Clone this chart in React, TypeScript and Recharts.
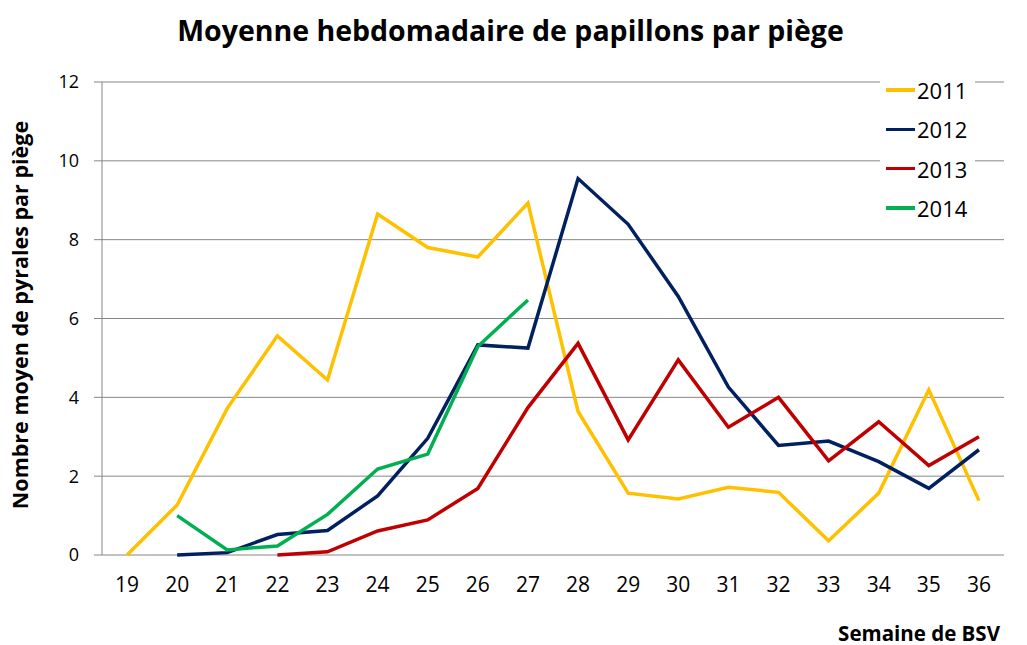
import React from "react";
import { LineChart, Line, XAxis, YAxis, CartesianGrid } from "recharts";

const weeks = [19, 20, 21, 22, 23, 24, 25, 26, 27, 28, 29, 30, 31, 32, 33, 34, 35, 36];
const weekBounds = [18.5, 19.5, 20.5, 21.5, 22.5, 23.5, 24.5, 25.5, 26.5, 27.5, 28.5, 29.5, 30.5, 31.5, 32.5, 33.5, 34.5, 35.5, 36.5];
const yTicks = [0, 2, 4, 6, 8, 10, 12];

const s2011 = [0, 1.27, 3.72, 5.56, 4.44, 8.65, 7.8, 7.56, 8.93, 3.64, 1.57, 1.42, 1.72, 1.59, 0.36, 1.57, 4.19, 1.38];
const s2012 = [null, 0, 0.06, 0.52, 0.62, 1.5, 2.96, 5.33, 5.25, 9.55, 8.39, 6.56, 4.26, 2.78, 2.89, 2.37, 1.69, 2.67];
const s2013 = [null, null, null, 0, 0.08, 0.61, 0.89, 1.69, 3.74, 5.37, 2.92, 4.95, 3.24, 4.0, 2.39, 3.38, 2.27, 3.0];
const s2014 = [null, 1.0, 0.13, 0.23, 1.03, 2.18, 2.56, 5.29, 6.47, null, null, null, null, null, null, null, null, null];

const series = [
  { key: "2011", color: "#FFC000", values: s2011 },
  { key: "2012", color: "#002060", values: s2012 },
  { key: "2013", color: "#C00000", values: s2013 },
  { key: "2014", color: "#00B050", values: s2014 },
];

const data = weeks.map((w, i) => {
  const row: Record<string, number | null> = { week: w };
  series.forEach((s) => (row[s.key] = s.values[i]));
  return row;
});

const font = "'Open Sans', sans-serif";
const gray = "#868686";

export default function App() {
  return (
    <div style={{ position: "relative", width: 1011, height: 637, fontFamily: font }}>
      <div
        style={{
          position: "absolute",
          left: 0,
          top: 4,
          width: 1005,
          textAlign: "center",
          fontSize: 28.5,
          fontWeight: 700,
          lineHeight: "36px",
        }}
      >
        Moyenne hebdomadaire de papillons par piège
      </div>

      <LineChart
        width={1011}
        height={637}
        data={data}
        margin={{ top: 74, right: 15, bottom: 60, left: 0 }}
        style={{ fontFamily: font }}
      >
        <CartesianGrid horizontal vertical={false} stroke={gray} strokeWidth={1} />
        <XAxis
          xAxisId="bounds"
          dataKey="week"
          type="number"
          domain={[18.5, 36.5]}
          ticks={weekBounds}
          tick={false}
          height={0}
          tickSize={8}
          stroke={gray}
          axisLine={{ stroke: gray }}
          tickLine={{ stroke: gray }}
        />
        <XAxis
          xAxisId="weeks"
          dataKey="week"
          type="number"
          domain={[18.5, 36.5]}
          ticks={weeks}
          interval={0}
          axisLine={false}
          tickLine={false}
          tickSize={8}
          tickMargin={14}
          height={30}
          tick={{ fill: "#000", fontSize: 21 }}
        />
        <YAxis
          width={94}
          domain={[0, 12]}
          ticks={yTicks}
          interval={0}
          stroke={gray}
          tickSize={8}
          tickMargin={15}
          tick={{ fill: "#000", fontSize: 18 }}
        />
        {series.map((s) => (
          <Line
            key={s.key}
            xAxisId="weeks"
            dataKey={s.key}
            stroke={s.color}
            strokeWidth={3.5}
            dot={false}
            activeDot={false}
            type="linear"
            isAnimationActive={false}
          />
        ))}
      </LineChart>

      <div
        style={{
          position: "absolute",
          left: 872,
          top: 62,
          width: 95,
          height: 160,
          background: "#fff",
        }}
      >
        {series.map((s, i) => (
          <div
            key={s.key}
            style={{
              position: "absolute",
              left: 6,
              top: 20 + i * 39.3 - 15,
              height: 30,
              display: "flex",
              alignItems: "center",
              fontSize: 22,
            }}
          >
            <span style={{ display: "inline-block", width: 29, height: 3.5, background: s.color, marginRight: 2 }} />
            <span style={{ lineHeight: "30px" }}>{s.key}</span>
          </div>
        ))}
      </div>

      <div
        style={{
          position: "absolute",
          left: 12 - 200,
          top: 307 - 14,
          width: 400,
          height: 28,
          lineHeight: "28px",
          textAlign: "center",
          transform: "rotate(-90deg)",
          fontSize: 21.5,
          fontWeight: 700,
        }}
      >
        Nombre moyen de pyrales par piège
      </div>

      <div
        style={{
          position: "absolute",
          left: 992 - 250,
          top: 615,
          width: 250,
          height: 20,
          lineHeight: "20px",
          textAlign: "right",
          fontSize: 20.5,
          fontWeight: 700,
        }}
      >
        Semaine de BSV
      </div>
    </div>
  );
}
